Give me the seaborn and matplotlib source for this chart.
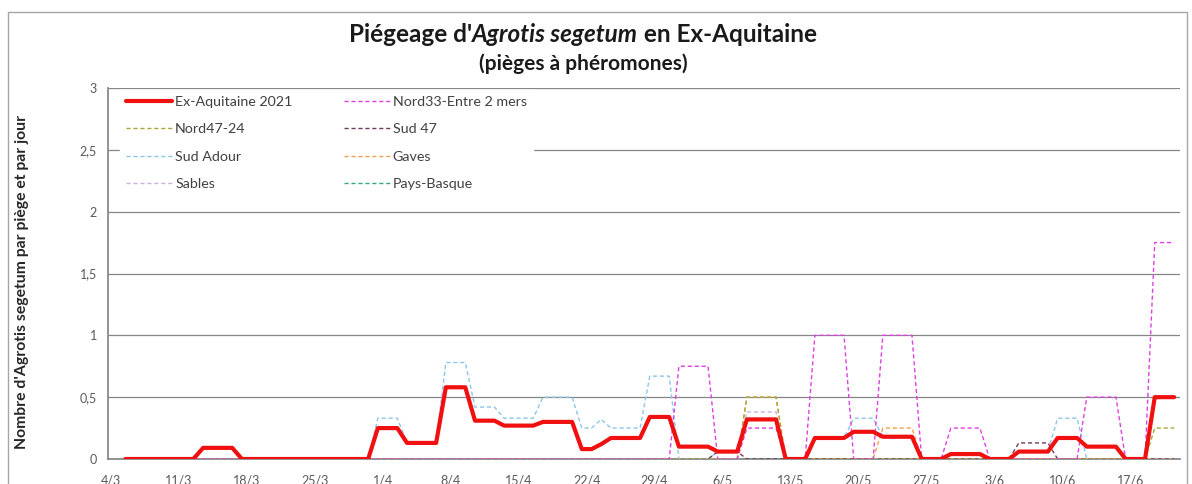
import numpy as np
import pandas as pd
import seaborn as sns
import matplotlib.pyplot as plt
from matplotlib.patches import Rectangle
from matplotlib.ticker import FuncFormatter

# Trap readings: each period = (number of days), value = mean catch per trap per day
first_day = "2021-03-05"
period_days = [8, 4, 14, 3, 4, 3, 3, 4, 4, 2, 1, 4, 3, 4, 3, 4, 3, 4, 3, 4, 3, 4, 3, 4, 3, 4, 3, 3]

ex_aquitaine = [0, .09, 0, .25, .13, .58, .31, .27, .30, .08, .12, .17, .34, .10, .06, .32,
                0, .17, .22, .18, 0, .04, 0, .06, .17, .10, 0, .50]
nord33 = [0, 0, 0, 0, 0, 0, 0, 0, 0, 0, 0, 0, 0, .75, 0, .25,
          0, 1.0, 0, 1.0, 0, .25, 0, 0, 0, .50, 0, 1.75]
nord47_24 = [0, 0, 0, 0, 0, 0, 0, 0, 0, 0, 0, 0, 0, 0, 0, .50,
             0, 0, 0, 0, 0, 0, 0, 0, 0, 0, 0, .25]
sud47 = [0, 0, 0, 0, 0, 0, 0, 0, 0, 0, 0, 0, 0, 0, .06, 0,
         0, 0, 0, 0, 0, 0, 0, .13, 0, 0, 0, 0]
sud_adour = [0, .09, 0, .33, .13, .78, .42, .33, .50, .25, .32, .25, .67, 0, .06, .33,
             0, .17, .33, .18, 0, 0, 0, .06, .33, 0, 0, 0]
gaves = [0, 0, 0, 0, 0, 0, 0, 0, 0, 0, 0, 0, 0, 0, 0, .50,
         0, 0, 0, .25, 0, 0, 0, 0, 0, 0, 0, 0]
sables = [0, 0, 0, 0, 0, 0, 0, 0, 0, 0, 0, 0, 0, 0, 0, .38,
          0, 0, 0, 0, 0, 0, 0, 0, 0, 0, 0, 0]
pays_basque = [0, 0, 0, 0, 0, 0, 0, 0, 0, 0, 0, 0, 0, 0, 0, 0,
               0, 0, 0, 0, 0, 0, 0, 0, 0, 0, 0, 0]

tick_labels = ["4/3", "11/3", "18/3", "25/3", "1/4", "8/4", "15/4", "22/4", "29/4",
               "6/5", "13/5", "20/5", "27/5", "3/6", "10/6", "17/6"]

series = {
    "Ex-Aquitaine 2021": ex_aquitaine,
    "Nord33-Entre 2 mers": nord33,
    "Nord47-24": nord47_24,
    "Sud 47": sud47,
    "Sud Adour": sud_adour,
    "Gaves": gaves,
    "Sables": sables,
    "Pays-Basque": pays_basque,
}
colors = {
    "Ex-Aquitaine 2021": "#F01010",
    "Nord33-Entre 2 mers": "#E040E0",
    "Nord47-24": "#A8A838",
    "Sud 47": "#6E3B5E",
    "Sud Adour": "#8CC6E6",
    "Gaves": "#F5A04C",
    "Sables": "#C6B4E2",
    "Pays-Basque": "#34A87E",
}

dates = pd.date_range(first_day, periods=sum(period_days))
df = pd.DataFrame({name: np.repeat(vals, period_days) for name, vals in series.items()})
df["date"] = dates

sns.set_theme(style="white")
plt.rcParams["font.family"] = ["Lato", "DejaVu Sans"]

fig = plt.figure(figsize=(11.92, 4.84), dpi=100)
ax = fig.add_axes([108 / 1192, 1 - 459 / 484, (1180 - 108) / 1192, (459 - 88) / 484])

# chart border
fig.patches.append(Rectangle((8 / 1192, -0.02), (1187 - 8) / 1192, 1.02 - 12 / 484,
                             transform=fig.transFigure, fill=False, edgecolor="#A6A6A6", lw=1))

lines = {}
draw_order = ["Pays-Basque", "Sables", "Gaves", "Sud Adour", "Sud 47", "Nord47-24",
              "Nord33-Entre 2 mers", "Ex-Aquitaine 2021"]
for i, name in enumerate(draw_order):
    if name == "Ex-Aquitaine 2021":
        kw = dict(lw=3.0, zorder=10)
    else:
        kw = dict(lw=1.0, dashes=(3, 2), zorder=3 + i)
    sns.lineplot(data=df, x="date", y=name, color=colors[name], ax=ax, label=name, **kw)
    lines[name] = ax.lines[-1]

ax.set_ylim(0, 3)
start = pd.Timestamp("2021-03-04")
ax.set_xlim(start - pd.Timedelta(hours=19), start + pd.Timedelta(days=109.6))
ticks = [start + pd.Timedelta(days=7 * i) - pd.Timedelta(hours=12) for i in range(len(tick_labels))]
ax.set_xticks(ticks)
ax.set_xticklabels(tick_labels)
ax.set_yticks([0, 0.5, 1, 1.5, 2, 2.5, 3])
ax.yaxis.set_major_formatter(FuncFormatter(lambda v, p: f"{v:g}".replace(".", ",")))
ax.tick_params(axis="both", direction="out", length=4, width=0.8, color="#868686",
               labelsize=9, labelcolor="#595959", pad=4)
ax.tick_params(axis="x", pad=7)
ax.set_xlabel("")
ax.set_ylabel("")
fig.text(22 / 1192, 1 - 282 / 484, "Nombre d'Agrotis segetum par piège et par jour",
         rotation=90, fontsize=11.3, fontweight="bold", color="#262626",
         ha="center", va="center")
ax.grid(axis="y", color="#868686", lw=0.9)
ax.set_axisbelow(True)
for s in ["top", "right"]:
    ax.spines[s].set_visible(False)
ax.spines["left"].set_color("#868686")
ax.spines["bottom"].set_color("#868686")

order = ["Ex-Aquitaine 2021", "Nord47-24", "Sud Adour", "Sables",
         "Nord33-Entre 2 mers", "Sud 47", "Gaves", "Pays-Basque"]
leg = ax.legend(handles=[lines[n] for n in order], labels=order, ncol=2,
                loc="upper left", bbox_to_anchor=(120 / 1192, 1 - 90 / 484),
                bbox_transform=fig.transFigure, borderaxespad=0, frameon=True,
                fontsize=10.3, handlelength=3.2, handletextpad=0.2, columnspacing=3.6,
                labelspacing=1.05, borderpad=0.45)
leg.get_frame().set_facecolor("white")
leg.get_frame().set_edgecolor("white")
leg.get_frame().set_alpha(1)
leg.set_zorder(20)
for t in leg.get_texts():
    t.set_color("#404040")

# title with italic species name
fig.canvas.draw()
renderer = fig.canvas.get_renderer()
parts = [("Piégeage d'", "normal"), ("Agrotis segetum", "italic"), (" en Ex-Aquitaine", "normal")]
texts = []
for txt, style in parts:
    texts.append(fig.text(0, 1 - 35 / 484, txt, fontsize=17.5, fontweight="bold", style=style,
                          va="center", ha="left", color="#1a1a1a"))
widths = [t.get_window_extent(renderer).width for t in texts]
x = 583 - sum(widths) / 2
for t, w in zip(texts, widths):
    t.set_x(x / 1192)
    x += w
fig.text(583 / 1192, 1 - 64 / 484, "(pièges à phéromones)", fontsize=15, fontweight="bold",
         ha="center", va="center", color="#1a1a1a")

fig.savefig("out.png", dpi=100)
